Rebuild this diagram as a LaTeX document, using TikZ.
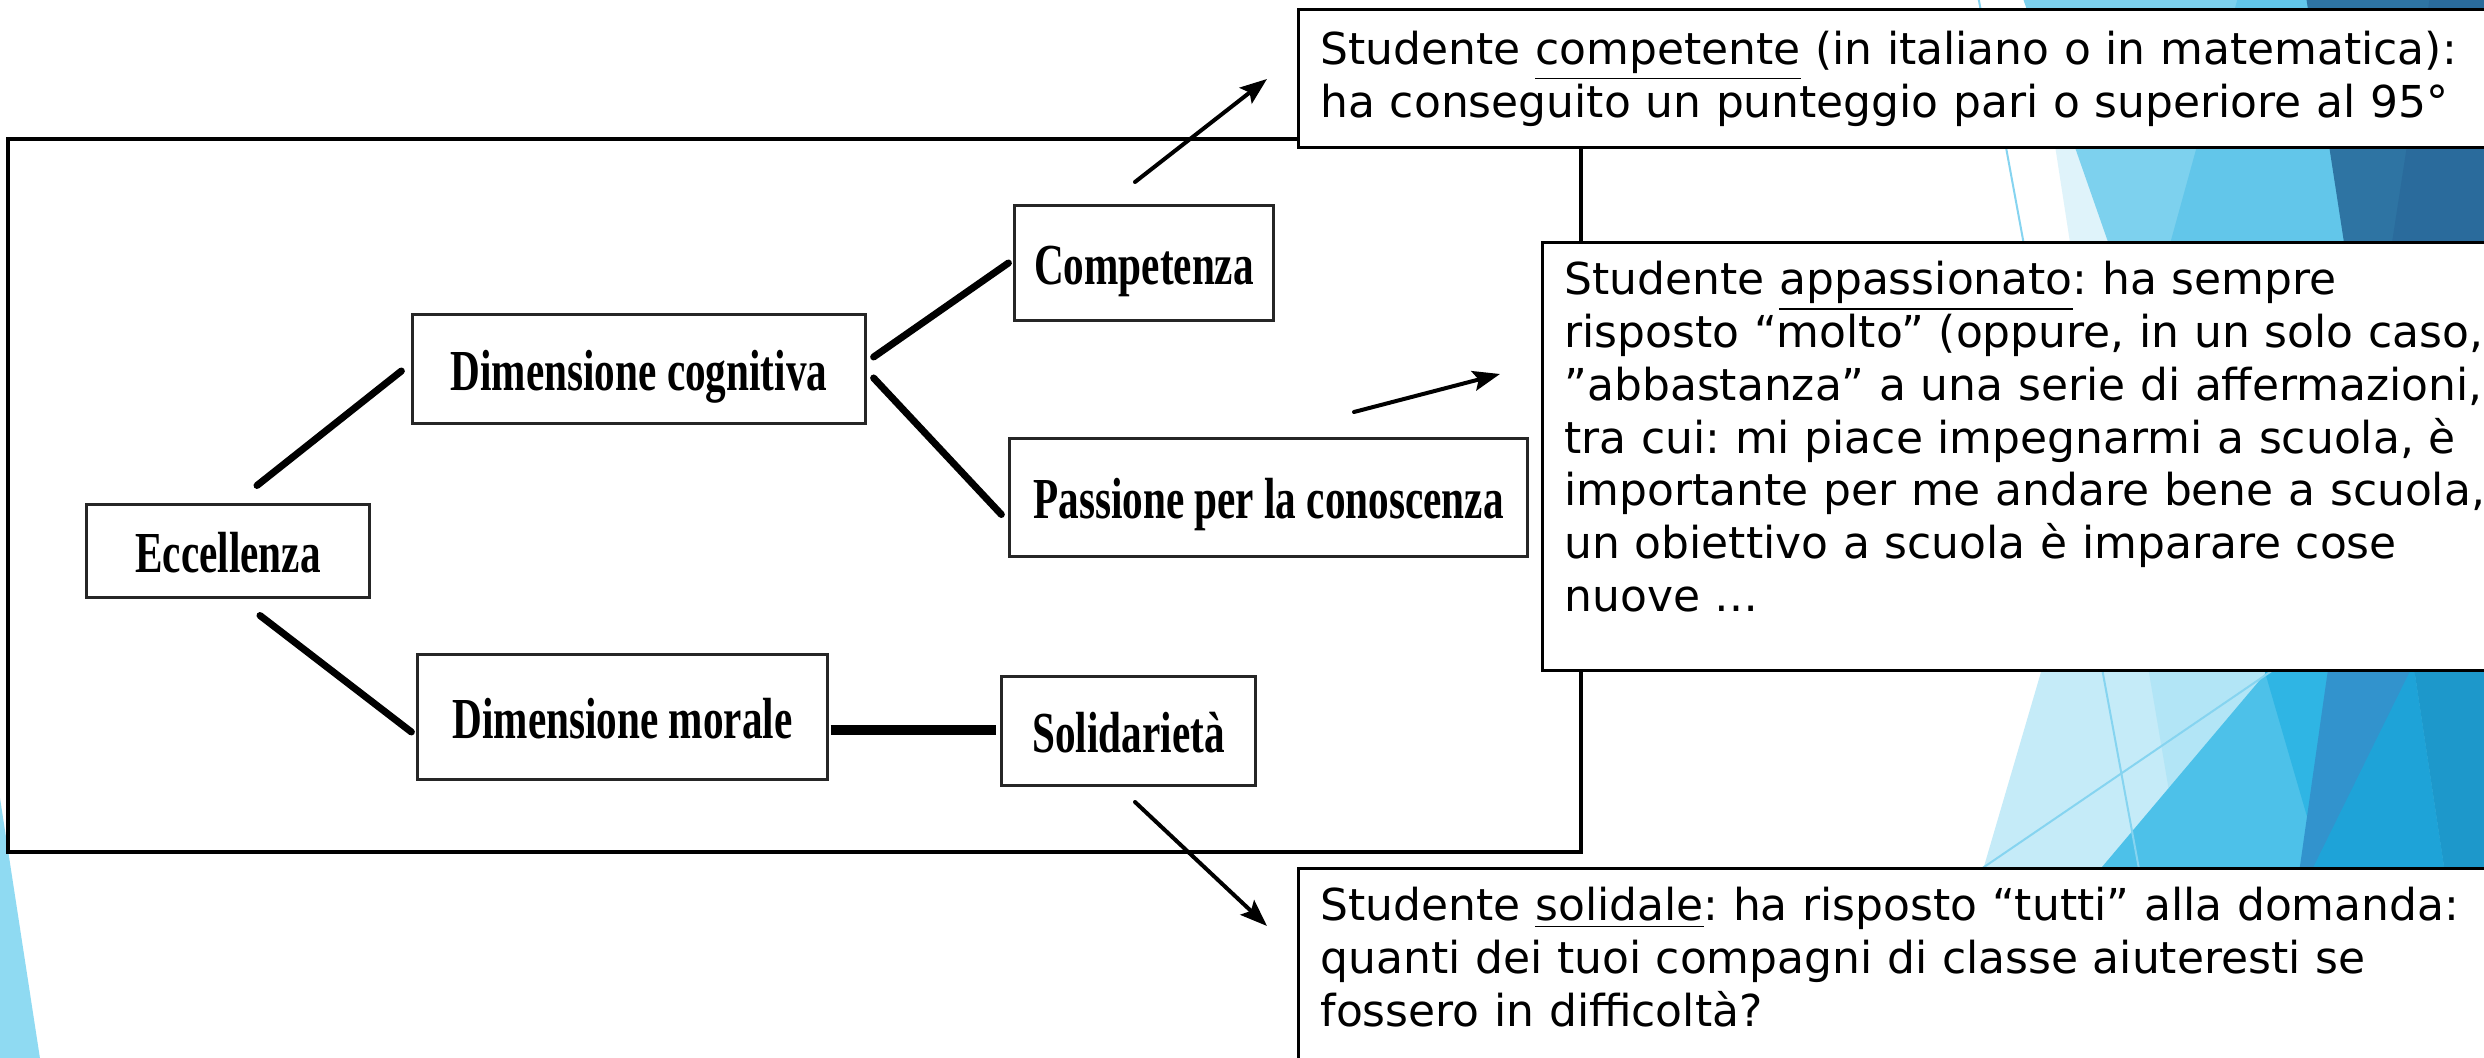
\documentclass[tikz,border=0pt]{standalone}
\usepackage{fontspec}
\setmainfont{DejaVu Sans}
\newfontfamily\boxfont[FakeStretch=0.71]{Liberation Serif}
\usetikzlibrary{arrows,arrows.meta,calc}

\definecolor{facetpale}{HTML}{DFF3FA}
\definecolor{facetlight}{HTML}{7DD1EE}
\definecolor{facetmid}{HTML}{62C6EA}
\definecolor{facetdark}{HTML}{2E74A3}
\definecolor{facetdeep}{HTML}{2A6B9C}
\definecolor{facetice}{HTML}{C5EBF8}
\definecolor{facetsky}{HTML}{B2E5F6}
\definecolor{facetsea}{HTML}{4DC1E9}
\definecolor{facetcyan}{HTML}{2FB5E4}
\definecolor{facetsteel}{HTML}{3293CD}
\definecolor{facetocean}{HTML}{1EA3D8}
\definecolor{facetnavy}{HTML}{1D98CB}
\definecolor{facetline}{HTML}{86D4F0}
\definecolor{facetleft}{HTML}{8FDAF2}

\tikzset{
    item/.style =   {rectangle,
                    fill=white,
                    draw=black!85,
                    text=black,
                    line width=0.03cm,
                    inner sep=0pt,
                    text height=1.2em,
                    text depth=0pt,
                    font=\boxfont\bfseries\fontsize{16.5}{19}\selectfont},
    note/.style =   {rectangle,
                    anchor=north west,
                    fill=white,
                    draw=black,
                    text=black,
                    line width=0.03cm,
                    align=left,
                    inner xsep=0.22cm,
                    inner ysep=0.19cm,
                    font=\fontsize{12.5}{15}\selectfont\frenchspacing},
    link/.style =   {line width=0.07cm,
                    line cap=round},
    pointer/.style = {line width=0.04cm,
                    line cap=round,
                    ->},
    >={Stealth[length=0.27cm,width=0.2cm,inset=0.05cm]}
}

\begin{document}
\begin{tikzpicture}[x=0.01cm,y=-0.01cm]
    \useasboundingbox (0,0) rectangle (2484,1058);
    \fill[white] (0,0) rectangle (2484,1058);
    % slide background
    \fill[facetpale]  (2031,-10) -- (2073,262) -- (2500,262) -- (2500,-10) -- cycle;
    \fill[facetlight] (2020,-10) -- (2115,262) -- (2500,262) -- (2500,-10) -- cycle;
    \fill[facetmid]   (2240,-10) -- (2165,262) -- (2500,262) -- (2500,-10) -- cycle;
    \fill[facetdark]  (2305,-10) -- (2347,262) -- (2500,262) -- (2500,-10) -- cycle;
    \fill[facetdeep]  (2431,-10) -- (2389,262) -- (2500,262) -- (2500,-10) -- cycle;
    \fill[facetice]   (2046,655) -- (1980,880) -- (2500,880) -- (2500,655) -- cycle;
    \fill[facetsky]   (2146,655) -- (2184,880) -- (2500,880) -- (2500,655) -- cycle;
    \fill[facetsea]   (2281,655) -- (2091,880) -- (2500,880) -- (2500,655) -- cycle;
    \fill[facetcyan]  (2260,655) -- (2330,655) -- (2308,820) -- cycle;
    \fill[facetsteel] (2330,655) -- (2424,655) -- (2307,880) -- (2298,880) -- cycle;
    \fill[facetocean] (2418,655) -- (2307,880) -- (2446,880) -- (2412,655) -- cycle;
    \fill[facetnavy]  (2412,655) -- (2446,880) -- (2500,880) -- (2500,655) -- cycle;
    \draw[facetline, line width=0.02cm] (1977,-10) -- (2141,880);
    \draw[facetline, line width=0.02cm] (2295,655) -- (1965,880);
    \fill[facetleft]  (0,798) -- (41,1065) -- (-5,1065) -- cycle;
    % frame
    \draw[line width=0.035cm] (8,139) rectangle (1581,852);

    \node[item, minimum width=2.82cm, minimum height=0.92cm] (ecc)  at (228,551)    {Eccellenza};
    \node[item, minimum width=4.52cm, minimum height=1.08cm] (dcog) at (639,369)    {Dimensione cognitiva};
    \node[item, minimum width=2.58cm, minimum height=1.14cm] (comp) at (1144,263)   {Competenza};
    \node[item, minimum width=5.17cm, minimum height=1.17cm] (pass) at (1268.5,497.5) {Passione per la conoscenza};
    \node[item, minimum width=4.09cm, minimum height=1.24cm] (dmor) at (622.5,717)  {Dimensione morale};
    \node[item, minimum width=2.53cm, minimum height=1.08cm] (sol)  at (1128.5,731) {Solidarietà};

    \path [link]    ($(ecc.north)+(29,-18)$)  edge [] ($(dcog.west)+(-10,2)$)
                    ($(ecc.south)+(32,17)$)   edge [] ($(dmor.west)+(-5,15)$)
                    ($(dcog.east)+(7,-12)$)   edge [] ($(comp.west)+(-5,0)$)
                    ($(dcog.east)+(7,9)$)     edge [] ($(pass.west)+(-7,17)$);
    \path [link, line width=0.1cm, line cap=butt]
                    ($(dmor.east)+(2,13)$)    edge [] ($(sol.west)+(-4,-1)$);

    \coordinate (ta) at (1135,182);
    \coordinate (ha) at (1267,79);
    \coordinate (tb) at (1354,412);
    \coordinate (hb) at (1500,374);
    \coordinate (tc) at (1135,802);
    \coordinate (hc) at (1267,926);
    \path [pointer] (ta) edge [] (ha)
                    (tb) edge [] (hb)
                    (tc) edge [] (hc);

    \node[note, text width=12.2cm, minimum height=1.38cm] (ncomp) at (1297,8)
        {Studente \underline{competente} (in italiano o in matematica):\\
         ha conseguito un punteggio pari o superiore al 95°};
    \node[note, text width=9.8cm] (npass) at (1541,241)
        {Studente \underline{appassionato}: ha sempre\\
         risposto “molto” (oppure, in un solo caso,\\
         ”abbastanza” a una serie di affermazioni,\\
         tra cui: mi piace impegnarmi a scuola, è\\
         importante per me andare bene a scuola,\\
         un obiettivo a scuola è imparare cose\\
         nuove …\par\vspace*{0.39cm}};
    \node[note, text width=12.2cm] (nsol) at (1297,867)
        {Studente \underline{solidale}: ha risposto “tutti” alla domanda:\\
         quanti dei tuoi compagni di classe aiuteresti se\\
         fossero in difficoltà?\par\vspace*{0.5cm}};
\end{tikzpicture}
\end{document}
